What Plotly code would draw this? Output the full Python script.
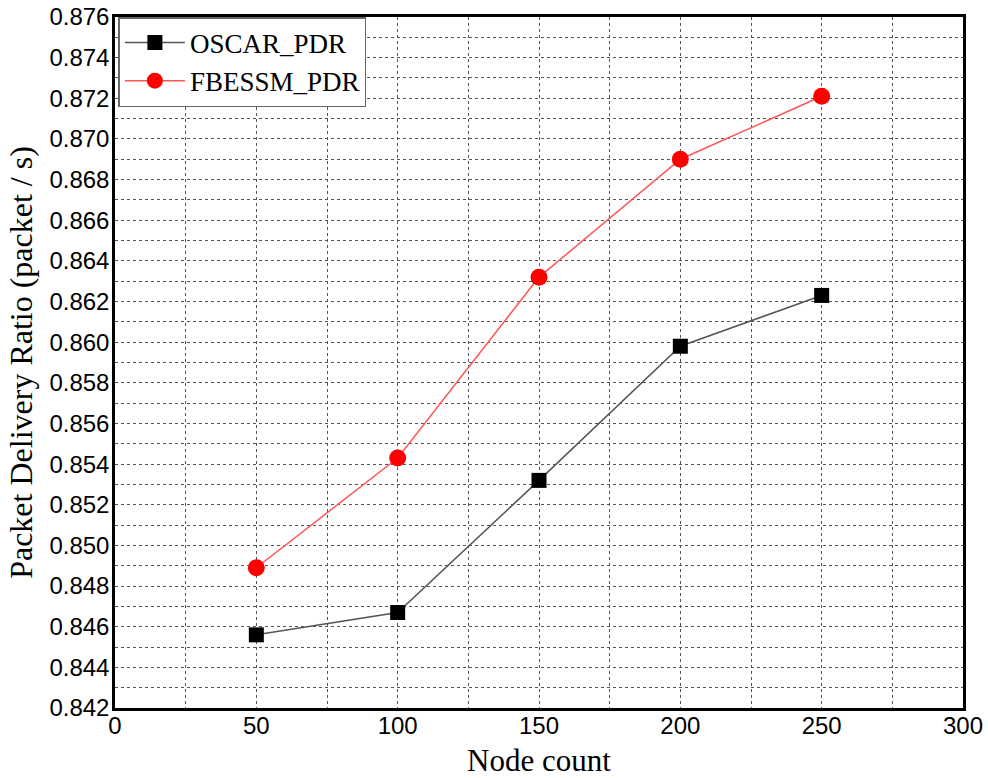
import plotly.graph_objects as go

node_count = [50, 100, 150, 200, 250]
oscar_pdr = [0.8456, 0.8467, 0.8532, 0.8598, 0.8623]
fbessm_pdr = [0.8489, 0.8543, 0.8632, 0.8690, 0.8721]

fig = go.Figure()
fig.add_trace(go.Scatter(
    x=node_count, y=oscar_pdr, name="OSCAR_PDR", mode="lines+markers",
    line=dict(color="#555555", width=1.5),
    marker=dict(symbol="square", size=15, color="black"),
))
fig.add_trace(go.Scatter(
    x=node_count, y=fbessm_pdr, name="FBESSM_PDR", mode="lines+markers",
    line=dict(color="#ff5555", width=1.5),
    marker=dict(symbol="circle", size=17, color="#ff0000"),
))

grid_style = dict(showgrid=True, gridcolor="#555555", griddash="dot", gridwidth=1)

fig.update_layout(
    width=988, height=778,
    margin=dict(l=115, r=25, t=17, b=70),
    plot_bgcolor="white", paper_bgcolor="white",
    showlegend=True,
    legend=dict(
        x=0.004, y=1.0, xanchor="left", yanchor="top",
        bgcolor="white", bordercolor="#666666", borderwidth=1.5,
        font=dict(family="Liberation Serif", size=27, color="black"),
        itemwidth=60, tracegroupgap=0,
    ),
    xaxis=dict(
        range=[0, 300], dtick=50, tick0=0,
        showline=True, linecolor="black", linewidth=2.5, mirror=True,
        ticks="", zeroline=False, automargin=False, ticklabelstandoff=-6,
        tickfont=dict(family="Liberation Sans", size=24, color="black"),
        title=dict(text="Node count", font=dict(family="Liberation Serif", size=31, color="black"), standoff=14),
        minor=dict(dtick=25, showgrid=True, gridcolor="#555555", griddash="dot", gridwidth=1),
        **grid_style,
    ),
    yaxis=dict(
        range=[0.842, 0.876], dtick=0.002, tick0=0.842, tickformat=".3f",
        showline=True, linecolor="black", linewidth=2.5, mirror=True,
        ticks="", zeroline=False, automargin=False, ticklabelstandoff=-2,
        tickfont=dict(family="Liberation Sans", size=24, color="black"),
        title=dict(text="Packet Delivery Ratio (packet / s)", font=dict(family="Liberation Serif", size=32, color="black"), standoff=8),
        minor=dict(dtick=0.001, showgrid=True, gridcolor="#555555", griddash="dot", gridwidth=1),
        **grid_style,
    ),
)

fig.write_html("out.html")
